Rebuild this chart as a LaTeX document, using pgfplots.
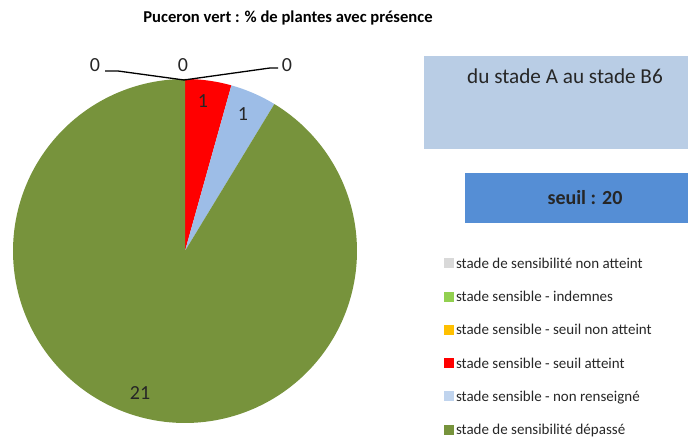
\documentclass[border=0pt]{standalone}
\usepackage{pgfplots}
\pgfplotsset{compat=1.18}
\usepackage{fontspec}
\setmainfont{Carlito}
\definecolor{cGrey}{HTML}{D9D9D9}
\definecolor{cLGreen}{HTML}{92D050}
\definecolor{cOrange}{HTML}{FFC000}
\definecolor{cRed}{HTML}{FF0000}
\definecolor{cLBlue}{HTML}{9DBDE7}
\definecolor{cLBlueLeg}{HTML}{C0D4EE}
\definecolor{cGreen}{HTML}{77933C}
\definecolor{boxA}{HTML}{B9CDE5}
\definecolor{boxB}{HTML}{558ED5}
\definecolor{txt}{HTML}{262626}
% values of the six categories
\def\vA{0}\def\vB{0}\def\vC{0}\def\vD{1}\def\vE{1}\def\vF{21}
\pgfmathsetmacro\tot{\vA+\vB+\vC+\vD+\vE+\vF}
\pgfmathsetmacro\aD{90-360*(\vA+\vB+\vC)/\tot}
\pgfmathsetmacro\aE{\aD-360*\vD/\tot}
\pgfmathsetmacro\aF{\aE-360*\vE/\tot}
\pgfmathsetmacro\aG{\aF-360*\vF/\tot}
\begin{document}
\begin{tikzpicture}
\begin{axis}[width=695pt,height=434pt,scale only axis,
  xmin=0,xmax=695,ymin=0,ymax=434,axis lines=none,clip=false,
  legend style={at={(axis cs:444,178)},anchor=north west,draw=none,fill=none,
    font=\fontsize{15}{16}\selectfont,text=txt,row sep=17.3pt,
    inner sep=0pt,outer sep=0pt,
    /tikz/every even column/.append style={column sep=0pt}},
  legend cell align=left,
  legend image code/.code={\fill[#1,draw=none] (0pt,-4.5pt) rectangle (10pt,5.5pt);}]
\path (axis cs:0,0) rectangle (axis cs:695,434);
% boxes
\fill[boxA] (axis cs:424,285) rectangle (axis cs:688,378);
\fill[boxB] (axis cs:465,211) rectangle (axis cs:688,261);
\node[font=\fontsize{21.2}{23}\selectfont,text=txt] at (axis cs:565,358) {du stade A au stade B6};
\node[font=\fontsize{20}{22}\selectfont\bfseries,text=txt] at (axis cs:585,236) {seuil : 20};
% title
\node[font=\fontsize{16.6}{18}\selectfont\bfseries] at (axis cs:288,416) {Puceron vert : \% de plantes avec présence};
% slices
\addplot[draw=none,fill=cRed,domain=\aE:\aD,samples=30,variable=\t,forget plot]
  ({185+172*cos(\t)},{183+172*sin(\t)}) -- (axis cs:185,183) -- cycle;
\addplot[draw=none,fill=cLBlue,domain=\aF:\aE,samples=30,variable=\t,forget plot]
  ({185+172*cos(\t)},{183+172*sin(\t)}) -- (axis cs:185,183) -- cycle;
\addplot[draw=none,fill=cGreen,domain=\aG:\aF,samples=200,variable=\t,forget plot]
  ({185+172*cos(\t)},{183+172*sin(\t)}) -- (axis cs:185,183) -- cycle;
% leader lines
\draw[black,line width=1.3pt] (axis cs:105,363) -- (axis cs:118,363) -- (axis cs:184,354) -- (axis cs:270,366) -- (axis cs:278,366);
% data labels
\node[font=\fontsize{20}{22}\selectfont,text=txt] at (axis cs:95,369) {\vA};
\node[font=\fontsize{20}{22}\selectfont,text=txt] at (axis cs:183,369) {\vB};
\node[font=\fontsize{20}{22}\selectfont,text=txt] at (axis cs:287,369) {\vC};
\node[font=\fontsize{20}{22}\selectfont,text=txt] at (axis cs:203,333) {\vD};
\node[font=\fontsize{20}{22}\selectfont,text=txt] at (axis cs:243,320) {\vE};
\node[font=\fontsize{20}{22}\selectfont,text=txt] at (axis cs:140,41) {\vF};
% legend
\addlegendimage{fill=cGrey}\addlegendentry{stade de sensibilité non atteint}
\addlegendimage{fill=cLGreen}\addlegendentry{stade sensible - indemnes}
\addlegendimage{fill=cOrange}\addlegendentry{stade sensible - seuil non atteint}
\addlegendimage{fill=cRed}\addlegendentry{stade sensible - seuil atteint}
\addlegendimage{fill=cLBlueLeg}\addlegendentry{stade sensible - non renseigné}
\addlegendimage{fill=cGreen}\addlegendentry{stade de sensibilité dépassé}
\end{axis}
\end{tikzpicture}
\end{document}
